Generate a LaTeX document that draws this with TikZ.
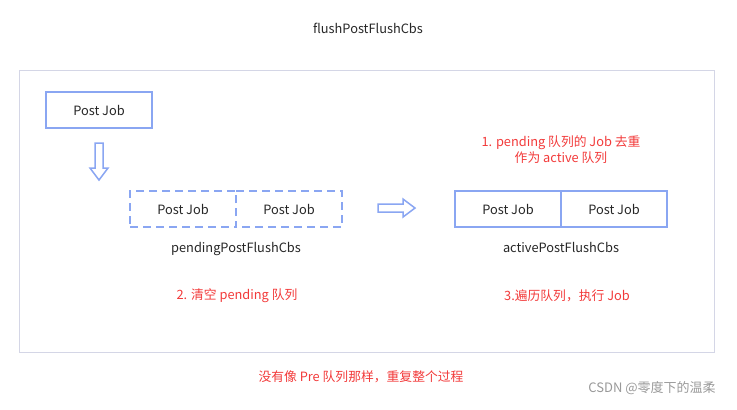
\documentclass[tikz,border=0pt]{standalone}
\usepackage{fontspec}
\setmainfont{Noto Sans CJK SC}
\usetikzlibrary{positioning}
\definecolor{jobblue}{HTML}{8AA6F2}
\definecolor{framegray}{HTML}{D4D6E6}
\definecolor{notered}{HTML}{F23A3A}

\begin{document}
\begin{tikzpicture}[x=1pt,y=-1pt,
    jobcell/.style={draw=jobblue,line width=2pt,minimum width=106pt,minimum height=36pt,
      inner sep=0pt,outer sep=0pt,font=\fontsize{12.8}{14}\selectfont,text=black!85},
    dashcell/.style={jobcell,dash pattern=on 8pt off 5pt},
    caption/.style={font=\fontsize{12.8}{14}\selectfont,text=black!85},
    note/.style={font=\fontsize{12.8}{16}\selectfont,text=notered,align=center},
    hollow/.style={draw=jobblue,line width=1.5pt,fill=white,line join=miter}]
  \useasboundingbox (0,0) rectangle (737,410);
  \node[caption] (title) at (368,28) {flushPostFlushCbs};
  \draw [framegray,line width=1pt] (19,70) rectangle (714,352);

  % post job entering
  \node[jobcell] (post) at (99,110) {Post Job};
  \draw [hollow] (95,143) -- (103,143) -- (103,168) -- (108,168) -- (99,180)
    -- (90,168) -- (95,168) -- cycle;

  % pending queue
  \node[dashcell] (p1) at (183,209) {Post Job};
  \node[jobcell,draw=none,right=0pt of p1] (p2) {Post Job};
  \draw [jobblue,line width=2pt,dash pattern=on 8pt off 5pt]
    (p2.north west) -- (p2.north east) -- (p2.south east) -- (p2.south west);
  \node[caption,below=12pt of p1.south east] (pending) {pendingPostFlushCbs};

  \draw [hollow] (378,204) -- (403,204) -- (403,199) -- (415,208) -- (403,217)
    -- (403,212) -- (378,212) -- cycle;

  % active queue
  \node[jobcell] (a1) at (508,209) {Post Job};
  \node[jobcell,right=0pt of a1] (a2) {Post Job};
  \node[caption,below=12pt of a1.south east] (active) {activePostFlushCbs};

  % notes
  \node[note] (step1) at (561,150) {1. pending 队列的 Job 去重\\作为 active 队列};
  \node[note] (step2) at (237,296) {2. 清空 pending 队列};
  \node[note] (step3) at (567,296) {3.遍历队列，执行 Job};
  \node[note] (repeat) at (361,377) {没有像 Pre 队列那样，重复整个过程};
  \node[font=\fontsize{13}{15}\selectfont,text=black!40] (mark) at (652,388) {CSDN @零度下的温柔};
\end{tikzpicture}
\end{document}
